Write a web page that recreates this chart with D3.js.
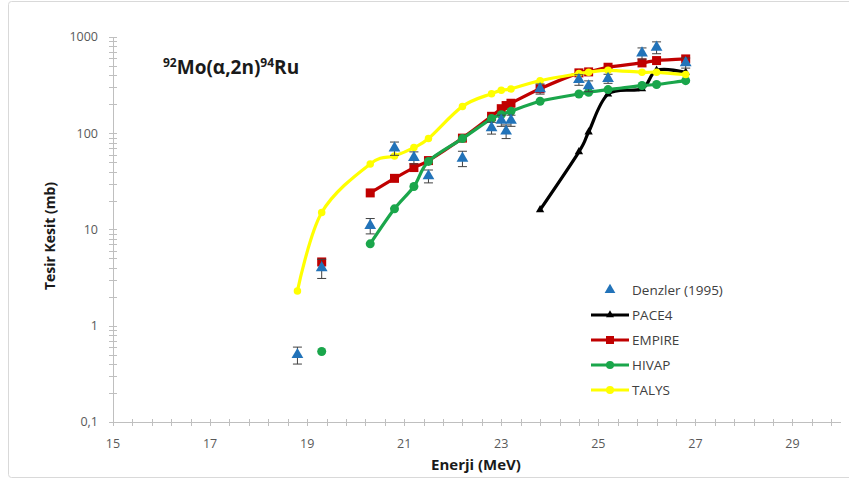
<!DOCTYPE html>
<html><head><meta charset="utf-8">
<script src="https://cdn.jsdelivr.net/npm/d3@7"></script>
<style>
body{margin:0;background:#fff;}
svg{display:block;font-family:"Open Sans",Lato,sans-serif;}
</style></head>
<body><svg id="c" width="849" height="479"></svg>
<script>
// ---- data ----
const denzlerX = [18.8, 19.3, 20.3, 20.8, 21.2, 21.5, 22.2, 22.8, 23.0, 23.1, 23.2, 23.8, 24.6, 24.8, 25.2, 25.9, 26.2, 26.8];
const denzlerY = [0.5, 4.0, 11, 70, 56, 36, 55, 114, 136, 105, 136, 290, 360, 310, 370, 680, 780, 540];
const denzlerErr = [0.1, 0.9, 2, 11, 8, 5.5, 10, 16, 18, 17, 18, 35, 45, 40, 40, 90, 110, 65];

const paceX = [23.8, 24.6, 24.8, 25.2, 25.9, 26.2, 26.8];
const paceY = [16, 64, 103, 255, 290, 450, 430];

const empireX = [19.3, null, 20.3, 20.8, 21.2, 21.5, 22.2, 22.8, 23.0, 23.1, 23.2, 23.8, 24.6, 24.8, 25.2, 25.9, 26.2, 26.8];
const empireY = [4.6, null, 24, 34, 44, 52, 89, 150, 180, 194, 205, 290, 424, 434, 485, 538, 569, 592];

const hivapX = [19.3, null, 20.3, 20.8, 21.2, 21.5, 22.2, 22.8, 23.0, 23.2, 23.8, 24.6, 24.8, 25.2, 25.9, 26.2, 26.8];
const hivapY = [0.54, null, 7.1, 16.4, 28, 51, 88, 142, 156, 169, 215, 256, 267, 284, 313, 321, 352];

const talysX = [18.8, 19.3, 20.3, 20.8, 21.2, 21.5, 22.2, 22.8, 23.0, 23.2, 23.8, 24.6, 24.8, 25.2, 25.9, 26.2, 26.8];
const talysY = [2.3, 15, 48, 58, 71, 88, 190, 258, 280, 289, 352, 417, 430, 451, 430, 430, 407];

const xTicks = [15, 17, 19, 21, 23, 25, 27, 29];
const yTicks = [0.1, 1, 10, 100, 1000];
const yTickLabels = ["0,1", "1", "10", "100", "1000"];
const legendNames = ["Denzler (1995)", "PACE4", "EMPIRE", "HIVAP", "TALYS"];

// ---- drawing ----
const svg = d3.select("#c");
const x = d3.scaleLinear().domain([15, 30]).range([113, 841]);
const y = d3.scaleLog().domain([0.1, 1000]).range([422, 37]);

svg.append("rect").attr("x", 8.5).attr("y", 1.5).attr("width", 850).attr("height", 476)
  .attr("rx", 3).attr("fill", "#fff").attr("stroke", "#d9d9d9");

const axisCol = "#bfbfbf";
// Y axis
svg.append("line").attr("x1", 113.5).attr("x2", 113.5).attr("y1", y(1000)).attr("y2", y(0.1)).attr("stroke", axisCol);
const yMinor = [];
for (let dec = 0.1; dec < 1000; dec *= 10) for (let k = 1; k <= 10; k++) yMinor.push(+(dec * k).toPrecision(3));
svg.selectAll(".ym").data(yMinor).enter().append("line")
  .attr("x1", 109).attr("x2", 117)
  .attr("y1", d => Math.round(y(d)) + 0.5).attr("y2", d => Math.round(y(d)) + 0.5)
  .attr("stroke", axisCol);
svg.selectAll(".yl").data(yTicks).enter().append("text")
  .attr("x", 98).attr("y", d => y(d)).attr("dy", "0.35em").attr("text-anchor", "end")
  .attr("font-size", 12.5).attr("fill", "#595959").text((d, i) => yTickLabels[i]);

// X axis
svg.append("line").attr("x1", x(15)).attr("x2", x(30)).attr("y1", 422.5).attr("y2", 422.5).attr("stroke", axisCol);
const xMinor = d3.range(0, 38).map(i => 15 + i * 0.4).filter(v => v <= 30.001);
svg.selectAll(".xm").data(xMinor).enter().append("line")
  .attr("x1", d => Math.round(x(d)) + 0.5).attr("x2", d => Math.round(x(d)) + 0.5)
  .attr("y1", 419).attr("y2", 426).attr("stroke", axisCol);
svg.selectAll(".xl").data(xTicks).enter().append("text")
  .attr("x", d => x(d)).attr("y", 448).attr("text-anchor", "middle")
  .attr("font-size", 12.5).attr("fill", "#595959").text(d => d);

// axis titles
svg.append("text").attr("x", 476).attr("y", 470).attr("text-anchor", "middle")
  .attr("font-size", 15).attr("font-weight", "bold").attr("fill", "#1a1a1a").text("Enerji (MeV)");
svg.append("text").attr("transform", "translate(55,236) rotate(-90)").attr("text-anchor", "middle")
  .attr("font-size", 14).attr("font-weight", "bold").attr("fill", "#1a1a1a").text("Tesir Kesit (mb)");

// chart title
const t = svg.append("text").attr("x", 163).attr("y", 74).attr("font-size", 19).attr("font-weight", "bold").attr("fill", "#1a1a1a");
t.append("tspan").attr("font-size", 12).attr("dy", -7).text("92");
t.append("tspan").attr("dy", 7).text("Mo(α,2n)");
t.append("tspan").attr("font-size", 12).attr("dy", -7).text("94");
t.append("tspan").attr("dy", 7).text("Ru");

const zip = (xs, ys) => xs.map((v, i) => ({x: v, y: ys[i]}));
const line = d3.line().defined(d => d.y != null).x(d => x(d.x)).y(d => y(d.y)).curve(d3.curveCardinal.tension(0));

const tri = d3.symbol().type(d3.symbolTriangle);

function series(data, color, marker, msize) {
  const g = svg.append("g");
  g.append("path").datum(data).attr("d", line).attr("fill", "none").attr("stroke", color)
    .attr("stroke-width", 3.2).attr("stroke-linejoin", "round");
  const pts = data.filter(d => d.y != null);
  if (marker === "square") {
    g.selectAll("rect").data(pts).enter().append("rect")
      .attr("x", d => x(d.x) - msize / 2).attr("y", d => y(d.y) - msize / 2)
      .attr("width", msize).attr("height", msize).attr("fill", color);
  } else if (marker === "circle") {
    g.selectAll("circle").data(pts).enter().append("circle")
      .attr("cx", d => x(d.x)).attr("cy", d => y(d.y)).attr("r", msize / 2).attr("fill", color);
  } else {
    g.selectAll("path.m").data(pts).enter().append("path").attr("class", "m")
      .attr("d", tri.size(msize)).attr("transform", d => `translate(${x(d.x)},${y(d.y)})`).attr("fill", color);
  }
}

const cPace = "#000000", cEmp = "#c00000", cHiv = "#1aa64b", cTal = "#ffff00", cDen = "#2273b9";
series(zip(paceX, paceY), cPace, "tri", 30);
series(zip(empireX, empireY), cEmp, "square", 9);
series(zip(hivapX, hivapY), cHiv, "circle", 9);
series(zip(talysX, talysY), cTal, "circle", 7.5);

// Denzler with error bars
const den = denzlerX.map((v, i) => ({x: v, y: denzlerY[i], e: denzlerErr[i]}));
const dg = svg.append("g");
den.forEach(d => {
  const X = x(d.x), y1 = y(d.y + d.e), y0 = y(d.y - d.e);
  dg.append("line").attr("x1", X).attr("x2", X).attr("y1", y1).attr("y2", y0).attr("stroke", "#404040").attr("stroke-width", 1);
  dg.append("line").attr("x1", X - 4.5).attr("x2", X + 4.5).attr("y1", y1).attr("y2", y1).attr("stroke", "#404040").attr("stroke-width", 1);
  dg.append("line").attr("x1", X - 4.5).attr("x2", X + 4.5).attr("y1", y0).attr("y2", y0).attr("stroke", "#404040").attr("stroke-width", 1);
});
dg.selectAll("path").data(den).enter().append("path")
  .attr("d", tri.size(60)).attr("transform", d => `translate(${x(d.x)},${y(d.y)})`).attr("fill", cDen);

// legend
const legColors = [cDen, cPace, cEmp, cHiv, cTal];
const legMarkers = ["tri", "tri", "square", "circle", "circle"];
const lg = svg.append("g");
legendNames.forEach((name, i) => {
  const cy = 290 + i * 25;
  if (i > 0) lg.append("line").attr("x1", 591).attr("x2", 629).attr("y1", cy).attr("y2", cy)
    .attr("stroke", legColors[i]).attr("stroke-width", 3.2);
  if (legMarkers[i] === "tri") lg.append("path").attr("d", tri.size(i === 0 ? 50 : 28)).attr("transform", `translate(610,${cy})`).attr("fill", legColors[i]);
  else if (legMarkers[i] === "square") lg.append("rect").attr("x", 606).attr("y", cy - 4).attr("width", 8).attr("height", 8).attr("fill", legColors[i]);
  else lg.append("circle").attr("cx", 610).attr("cy", cy).attr("r", 4).attr("fill", legColors[i]);
  lg.append("text").attr("x", 632).attr("y", cy).attr("dy", "0.35em").attr("font-size", 13.5)
    .attr("fill", "#404040").text(name);
});
</script></body></html>
